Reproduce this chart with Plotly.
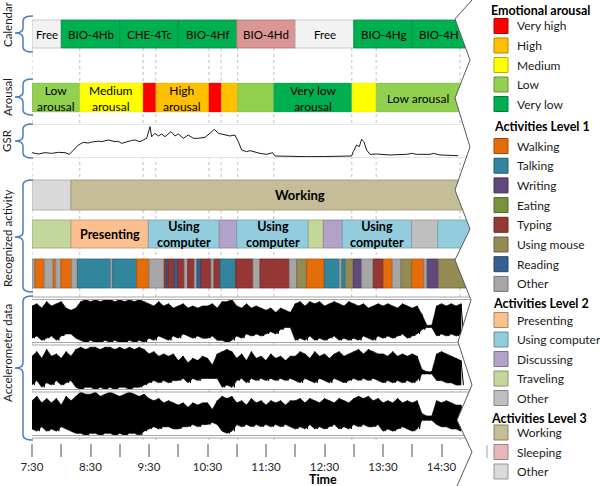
import plotly.graph_objects as go

# ======================= DATA =======================
T0 = 7.5  # 7:30 -> all times below are minutes after 7:30

# Calendar
cal_start_min = [0, 30, 90, 150, 210, 270, 330, 390]
cal_label = ["Free", "BIO-4Hb", "CHE-4Tc", "BIO-4Hf", "BIO-4Hd", "Free", "BIO-4Hg", "BIO-4H"]
cal_type = ["Free", "Lecture", "Lecture", "Lecture", "Lecture B", "Free", "Lecture", "Lecture"]

# Emotional arousal
aro_start_min = [0, 49, 114, 127, 181.5, 194, 211, 248, 328, 353]
aro_level = ["Low", "Medium", "Very high", "High", "Very high", "High", "Low", "Very low", "Medium", "Low"]
aro_text = ["Low<br>arousal", "Medium<br>arousal", "", "High<br>arousal", "", "", "",
            "Very low<br>arousal", "", "Low arousal"]
record_end_min = 439
row_end_min = 456

# GSR
gsr_min = [0, 6.5, 13.3, 20.2, 27, 33.8, 38.3, 42.4, 47.5, 52.6, 57.8, 61, 64.6, 68, 71.5, 75, 78.3,
           85.1, 88, 92, 95, 98.8, 102, 105.6, 110.8, 114.2, 117.6, 121, 122.7, 126.1, 129.6, 133,
           136.4, 142.6, 146.7, 150.1, 155.2, 160.3, 165.5, 170.6, 177.4, 182.5, 187, 191.1, 197.9,
           203, 208.1, 211.6, 215, 216.7, 220.1, 223.6, 227, 233.8, 240.7, 246.8, 249.2, 264.6,
           281.7, 300, 315.9, 327.8, 329.5, 332.9, 335.7, 338.1, 340.4, 343.2, 346.6, 353.4, 367.1,
           384.2, 389.4, 394.5, 408.2, 411.6, 418.4, 425.3, 437.2]
gsr_val = [0.72, 0.51, 0.72, 0.61, 0.77, 0.72, 0.46, 1.13, 1.90, 2.32, 2.21, 2.35, 2.42, 2.50, 2.42,
           2.55, 2.68, 2.42, 2.50, 2.16, 2.30, 2.52, 2.60, 2.68, 2.42, 2.68, 2.94, 4.74, 3.19, 3.71,
           3.30, 3.61, 3.19, 3.97, 3.30, 3.61, 2.94, 3.45, 2.94, 2.94, 3.09, 3.71, 4.33, 3.71, 3.45,
           3.30, 3.45, 2.42, 1.13, 1.03, 0.87, 1.03, 0.87, 0.61, 0.46, 0.72, 0.20, 0.10,
           0.10, 0.12, 0.10, 0.20, 0.87, 1.90, 1.65, 2.78, 2.42, 1.13, 0.46, 0.51, 0.36,
           0.46, 0.61, 0.46, 0.46, 0.61, 0.36, 0.36, 0.25]

# Activities level 3 / 2 / 1
l3_start_min = [0, 40]
l3_act = ["Other", "Working"]
l3_label = "Working"
l3_label_min = 275

l2_start_min = [0, 40, 119.3, 192.1, 210, 283.4, 298.8, 318.3, 389.4, 416.1]
l2_act = ["Traveling", "Presenting", "Using computer", "Discussing", "Using computer",
          "Traveling", "Discussing", "Using computer", "Other", "Using computer"]
l2_text = ["", "Presenting", "Using<br>computer", "", "Using<br>computer", "", "",
           "Using<br>computer", "", ""]

l1_start_min = [0, 3.1, 12.6, 21.8, 24.3, 29.7, 40.7, 46.5, 80.7, 82.8, 107.4, 120,
                135.7, 138.1, 139.8, 146, 149.4, 156.2, 159.7, 166.5, 169.2, 173.3, 183.6,
                186.7, 192.8, 208.9, 226.7, 233.9, 263.9, 271.5, 281.7, 299.8, 315.2, 317.9,
                321.3, 329.5, 338.1, 350, 360.3, 369.5, 378.5, 389.4, 402, 405.4, 416.7]
l1_act = ["Other", "Walking", "Other", "Walking", "Other", "Walking", "Other", "Talking",
          "Other", "Talking", "Walking", "Other",
          "Typing", "Reading", "Typing", "Reading", "Typing", "Other", "Typing", "Other",
          "Reading", "Typing", "Other", "Typing", "Talking", "Typing", "Other", "Typing",
          "Other", "Using mouse", "Walking", "Talking", "Other", "Talking", "Using mouse",
          "Writing", "Other", "Typing", "Walking", "Other", "Using mouse", "Walking",
          "Other", "Writing", "Using mouse"]

# Accelerometer envelopes (5-minute steps from 7:30, units: -10..10)
acc_step_min = 5
acc1_hi = [7, 8, 6, 9, 7, 8, 9, 6, 5, 6,
           9, 10, 9, 10, 9, 10, 10, 9, 10, 9, 10, 9, 10, 9,
           8, 7, 9, 7, 8, 6, 7, 8, 6, 7, 6, 7,
           7, 8, 6, 9, 9, 10,
           7, 6, 8, 6, 7, 6,
           5, 6, 4, 6, 5, 4,
           8, 9, 7, 9, 8, 9, 7, 8, 9, 8, 7, 9,
           8, 7, 8, 6, 7, 8,
           7, 8, 7, 6, 8, 7, 6, 7,
           3, -2, -2,
           7, 8, 7, 8, 7, 8]
acc1_lo = [-8, -7, -9, -8, -7, -9, -7, -6, -6, -8,
           -9, -10, -9, -10, -10, -9, -10, -9, -10, -10, -9, -10, -9, -10,
           -8, -9, -7, -8, -9, -7, -8, -6, -7, -8, -7, -8,
           -8, -7, -9, -9, -10, -9,
           -7, -8, -6, -7, -6, -7,
           -6, -5, -6, -4, -3, -3,
           -9, -8, -9, -7, -9, -8, -9, -8, -7, -9, -8, -9,
           -8, -9, -7, -8, -9, -7,
           -8, -7, -8, -7, -6, -8, -7, -6,
           -4, -3, -3,
           -7, -6, -7, -6, -7, -6]
acc2_hi = [5, 7, 4, 8, 5, 6, 4, 7, 5,
           8, 9, 8, 9, 9, 8, 9, 9, 8, 9, 8, 9, 8, 9, 8,
           6, 7, 5, 6, 5, 6,
           3, 5, 2, 4, 3, 5,
           4, 1, 6,
           7, 8, 7,
           4, 6, 3, 7, 4, 5, 3, 6, 4, 5, 3, 5,
           5, 7, 6, 4, 7, 5, 6, 4, 6, 7, 5, 6,
           7, 8, 6, 8, 7, 6,
           6, 5, 7, 5, 6, 5, 6, 5,
           -1, -2, -2,
           6, 7, 6, 5, 4, 3]
acc2_lo = [-8, -6, -9, -7, -8, -6, -8, -7, -6,
           -9, -10, -9, -9, -10, -9, -10, -9, -10, -9, -9, -10, -9, -9, -8,
           -7, -6, -7, -6, -7, -6,
           -6, -5, -7, -5, -6, -5,
           -5, -5, -5,
           -9, -8, -9,
           -6, -5, -7, -5, -6, -5, -6, -5, -6, -5, -6, -5,
           -6, -7, -5, -6, -7, -5, -6, -7, -5, -6, -7, -6,
           -5, -6, -5, -6, -5, -6,
           -7, -6, -7, -6, -7, -6, -7, -6,
           -3, -3, -3,
           -6, -6, -7, -7, -8, -8]
acc3_hi = [6, 8, 5, 7, 5, 7, 4, 8, 6,
           8, 10, 9, 9, 10, 8, 9, 10, 9, 8, 9, 10, 9, 8, 9,
           7, 6, 7, 5, 6, 5,
           4, 5, 3, 5, 4, 5,
           5, 2, 6,
           8, 7, 8,
           5, 6, 4, 7, 5, 6, 4, 6, 5, 6, 4, 6,
           6, 7, 5, 7, 6, 5, 7, 6, 5, 7, 6, 5,
           7, 8, 7, 8, 6, 7,
           5, 6, 5, 7, 5, 6, 5, 6,
           0, -1, -1,
           6, 5, 6, 5, 4, 4]
acc3_lo = [-7, -8, -6, -8, -7, -8, -6, -7, -8,
           -9, -9, -10, -9, -9, -10, -9, -9, -10, -9, -10, -9, -9, -10, -8,
           -7, -6, -7, -6, -6, -7,
           -7, -6, -6, -5, -6, -5,
           -5, -4, -5,
           -8, -9, -8,
           -5, -6, -5, -6, -5, -6, -5, -6, -5, -6, -5, -6,
           -7, -6, -7, -5, -7, -6, -7, -6, -5, -7, -6, -7,
           -5, -6, -5, -6, -6, -5,
           -8, -7, -8, -7, -6, -7, -8, -7,
           -3, -3, -3,
           -5, -6, -6, -7, -7, -8]

# Time axis ticks
tick_min = [0, 30, 60, 90, 120, 150, 180, 210, 240, 270, 300, 330, 360, 390, 420]
tick_text = ["7:30", "", "8:30", "", "9:30", "", "10:30", "", "11:30", "", "12:30", "",
             "13:30", "", "14:30"]

# Legend content
leg_arousal = ["Very high", "High", "Medium", "Low", "Very low"]
leg_l1 = ["Walking", "Talking", "Writing", "Eating", "Typing", "Using mouse", "Reading", "Other"]
leg_l2 = ["Presenting", "Using computer", "Discussing", "Traveling", "Other"]
leg_l3 = ["Working", "Sleeping", "Other"]

# ======================= STYLE =======================
cal_colors = {"Free": "#f2f2f2", "Lecture": "#00b050", "Lecture B": "#d99694"}
aro_colors = {"Very high": "#ff0000", "High": "#ffc000", "Medium": "#ffff00",
              "Low": "#92d050", "Very low": "#00b050"}
l1_colors = {"Walking": "#e46c0a", "Talking": "#31859c", "Writing": "#604a7b",
             "Eating": "#77933c", "Typing": "#953735", "Using mouse": "#948a54",
             "Reading": "#376092", "Other": "#a6a6a6"}
l2_colors = {"Presenting": "#fac090", "Using computer": "#93cddd", "Discussing": "#b3a2c7",
             "Traveling": "#c3d69b", "Other": "#bfbfbf"}
l3_colors = {"Working": "#c4bd97", "Sleeping": "#e6b9b8", "Other": "#d9d9d9"}

W, H = 600, 486
PX_PER_H = 58.5
X0_PX, X1_PX = 32, 472
FONT = "Lato"


def hrs(m):
    return T0 + m / 60.0


def pxx(x):
    return x / W


def pxy(y):
    return 1 - y / H


def darken(c, f=0.78):
    c = c.lstrip("#")
    r, g, b = int(c[0:2], 16), int(c[2:4], 16), int(c[4:6], 16)
    return "#%02x%02x%02x" % (int(r * f), int(g * f), int(b * f))


fig = go.Figure()


def add_row(starts, cats, cmap, yc, h, end, lw=0.8):
    ends = list(starts[1:]) + [end]
    cols = [cmap[c] for c in cats]
    fig.add_trace(go.Bar(
        orientation="h", y=[yc] * len(starts), base=[hrs(s) for s in starts],
        x=[(e - s) / 60.0 for s, e in zip(starts, ends)], width=h,
        marker=dict(color=cols, line=dict(color=[darken(c) for c in cols], width=lw)),
        xaxis="x", yaxis="y", hoverinfo="skip", showlegend=False))


# row geometry (pixels)
ROW_CAL = (34, 28)
ROW_ARO = (97.5, 29)
ROW_L3 = (195, 30)
ROW_L2 = (234, 28)
ROW_L1 = (273.5, 29)

add_row(cal_start_min, cal_type, cal_colors, *ROW_CAL, row_end_min)
add_row(aro_start_min, aro_level, aro_colors, *ROW_ARO, row_end_min, lw=0.3)
add_row(l3_start_min, l3_act, l3_colors, *ROW_L3, row_end_min)
add_row(l2_start_min, l2_act, l2_colors, *ROW_L2, row_end_min)
add_row(l1_start_min, l1_act, l1_colors, *ROW_L1, row_end_min)

# GSR
fig.add_trace(go.Scatter(x=[hrs(m) for m in gsr_min], y=gsr_val, mode="lines",
                         line=dict(color="#1a1a1a", width=1), xaxis="x", yaxis="y2",
                         hoverinfo="skip", showlegend=False))

# Accelerometer: dense signal drawn as the band between the read envelopes,
# plus the oscillation between them
for hi, lo, ax in [(acc1_hi, acc1_lo, "y3"), (acc2_hi, acc2_lo, "y4"), (acc3_hi, acc3_lo, "y5")]:
    ts = [hrs(i * acc_step_min) for i in range(len(hi))]
    fig.add_trace(go.Scatter(x=ts + ts[::-1], y=list(hi) + list(lo)[::-1], mode="lines",
                             fill="toself", fillcolor="#000000",
                             line=dict(color="#000000", width=0.6),
                             xaxis="x", yaxis=ax, hoverinfo="skip", showlegend=False))
    xs, ys = [], []
    for i in range(len(hi)):
        xs += [hrs(i * acc_step_min), hrs(i * acc_step_min + acc_step_min / 2.0)]
        ys += [hi[i], lo[i]]
    fig.add_trace(go.Scatter(x=xs, y=ys, mode="lines",
                             line=dict(color="#000000", width=1),
                             xaxis="x", yaxis=ax, hoverinfo="skip", showlegend=False))

shapes = []
annotations = []

# vertical dotted gridlines at arousal boundaries
for m in aro_start_min + [record_end_min]:
    shapes.append(dict(type="line", xref="x", yref="paper", x0=hrs(m), x1=hrs(m),
                       y0=pxy(48), y1=pxy(440), layer="below",
                       line=dict(color="#bfbfbf", width=1, dash="dot")))

# GSR gridlines
for yy in [125, 157.3]:
    shapes.append(dict(type="line", xref="paper", yref="paper", x0=pxx(X0_PX), x1=pxx(X1_PX),
                       y0=pxy(yy), y1=pxy(yy), layer="below",
                       line=dict(color="#d0d0d0", width=1)))
# accelerometer panel borders (double lines)
for yy in [297, 299.5, 342.5, 345, 389.5, 392, 435.5, 438]:
    shapes.append(dict(type="line", xref="paper", yref="paper", x0=pxx(X0_PX), x1=pxx(X1_PX),
                       y0=pxy(yy), y1=pxy(yy), layer="above",
                       line=dict(color="#a6a6a6", width=1)))

# right zig-zag outline + white clip
zig = [(472, 0), (455, 19), (470, 60), (455, 98), (470, 147), (455, 190), (470, 229),
       (455, 260), (471, 300), (458, 342), (472, 385), (457, 420), (472, 452), (457, 486)]
clip = "M " + " L ".join("%.5f,%.5f" % (pxx(x), pxy(y)) for x, y in zig)
clip += " L %.5f,%.5f L %.5f,%.5f Z" % (pxx(486), pxy(486), pxx(486), pxy(0))
shapes.append(dict(type="path", xref="paper", yref="paper", path=clip, fillcolor="white",
                   line=dict(width=0), layer="above"))
zpath = "M " + " L ".join("%.5f,%.5f" % (pxx(x), pxy(y)) for x, y in zig)
shapes.append(dict(type="path", xref="paper", yref="paper", path=zpath,
                   line=dict(color="#595959", width=1), layer="above"))
shapes.append(dict(type="line", xref="paper", yref="paper", x0=pxx(487), x1=pxx(487),
                   y0=pxy(445), y1=pxy(458), line=dict(color="#a6a6a6", width=1)))


# braces
def brace(y0, y1, ym, xe=33, xm=23, xt=15, r=5):
    pts = [("M", [(xe, y0)]), ("Q", [(xm, y0), (xm, y0 + r)]), ("L", [(xm, ym - r)]),
           ("Q", [(xm, ym), (xt, ym)]), ("Q", [(xm, ym), (xm, ym + r)]), ("L", [(xm, y1 - r)]),
           ("Q", [(xm, y1), (xe, y1)])]
    s = ""
    for cmd, ps in pts:
        s += cmd + " " + " ".join("%.5f,%.5f" % (pxx(a), pxy(b)) for a, b in ps) + " "
    return s


for y0, y1, ym in [(16, 52, 33), (79, 115, 97), (124, 158, 141), (180, 292, 237), (296, 440, 368)]:
    shapes.append(dict(type="path", xref="paper", yref="paper", path=brace(y0, y1, ym),
                       line=dict(color="#4a7ebb", width=1.5)))

# side labels
for txt, yc in [("Calendar", 24), ("Arousal", 97), ("GSR", 141),
                ("Recognized activity", 238), ("Accelerometer data", 353)]:
    annotations.append(dict(text=txt, xref="paper", yref="paper", x=pxx(7), y=pxy(yc),
                            textangle=-90, showarrow=False, xanchor="center", yanchor="middle",
                            font=dict(family=FONT, size=11.5, color="#1a1a1a")))


def seg_mid(starts, end, i):
    ends = list(starts[1:]) + [end]
    return hrs((starts[i] + ends[i]) / 2.0)


# calendar labels
for i, lab in enumerate(cal_label):
    if i == len(cal_label) - 1:
        xm = hrs(cal_start_min[i] + 27)
    else:
        xm = seg_mid(cal_start_min, row_end_min, i)
    annotations.append(dict(text=lab, x=xm, y=ROW_CAL[0], xref="x", yref="y", showarrow=False,
                            xanchor="center", yanchor="middle",
                            font=dict(family=FONT, size=11.5, color="#000")))
# arousal labels
for i, lab in enumerate(aro_text):
    if lab:
        annotations.append(dict(text=lab, x=seg_mid(aro_start_min, record_end_min, i),
                                y=ROW_ARO[0] + 0.5, xref="x", yref="y", showarrow=False,
                                xanchor="center", yanchor="middle",
                                font=dict(family=FONT, size=12, color="#000")))
# level labels
annotations.append(dict(text="<b>%s</b>" % l3_label, x=hrs(l3_label_min), y=ROW_L3[0],
                        xref="x", yref="y", showarrow=False, xanchor="center", yanchor="middle",
                        font=dict(family=FONT, size=13, color="#000")))
for i, lab in enumerate(l2_text):
    if lab:
        annotations.append(dict(text="<b>%s</b>" % lab, x=seg_mid(l2_start_min, row_end_min, i),
                                y=ROW_L2[0] + 0.5, xref="x", yref="y", showarrow=False,
                                xanchor="center", yanchor="middle",
                                font=dict(family=FONT, size=12.5, color="#000")))

# axis title
annotations.append(dict(text="<b>Time</b>", xref="paper", yref="paper", x=pxx(323), y=pxy(479),
                        xanchor="center", yanchor="middle",
                        showarrow=False, font=dict(family=FONT, size=12.5, color="#000")))

# legend
groups = [("Emotional arousal", leg_arousal, aro_colors, 489, 10, 26, 19.5),
          ("Activities Level 1", leg_l1, l1_colors, 492, 127, 146, 19.7),
          ("Activities Level 2", leg_l2, l2_colors, 491, 303, 320, 19.5),
          ("Activities Level 3", leg_l3, l3_colors, 489, 418, 432.5, 19.5)]
for title, items, cmap, tx, ty, y0, dy in groups:
    annotations.append(dict(text="<b>%s</b>" % title, xref="paper", yref="paper", x=pxx(tx),
                            y=pxy(ty), xanchor="left", yanchor="middle", showarrow=False,
                            font=dict(family=FONT, size=12.5, color="#000")))
    for k, name in enumerate(items):
        yc = y0 + k * dy
        col = cmap[name]
        shapes.append(dict(type="rect", xref="paper", yref="paper", x0=pxx(494), x1=pxx(508),
                           y0=pxy(yc - 7.5), y1=pxy(yc + 7.5), fillcolor=col,
                           line=dict(color=darken(col, 0.7), width=1)))
        annotations.append(dict(text=name, xref="paper", yref="paper", x=pxx(515), y=pxy(yc),
                                xanchor="left", yanchor="middle", showarrow=False,
                                font=dict(family=FONT, size=12, color="#1a1a1a")))

xr = [T0, T0 + (X1_PX - X0_PX) / PX_PER_H]
fig.update_layout(
    template="none",
    width=W, height=H, autosize=False, margin=dict(l=0, r=0, t=0, b=0, pad=0),
    paper_bgcolor="white", plot_bgcolor="white", barmode="overlay", showlegend=False,
    shapes=shapes, annotations=annotations,
    xaxis=dict(domain=[pxx(X0_PX), pxx(X1_PX)], range=xr, anchor="free", position=pxy(443),
               side="bottom", tickvals=[hrs(m) for m in tick_min], ticktext=tick_text,
               ticks="outside", ticklen=13, tickwidth=1.5, tickcolor="#a6a6a6",
               showline=False, showgrid=False, zeroline=False, automargin=False,
               tickfont=dict(family=FONT, size=11.5, color="#262626")),
    yaxis=dict(domain=[0, 1], range=[H, 0], visible=False, fixedrange=True, automargin=False),
    yaxis2=dict(domain=[pxy(157.3), pxy(125)], range=[0, 5], visible=False, anchor="x"),
    yaxis3=dict(domain=[pxy(342.5), pxy(299.5)], range=[-10, 10], visible=False, anchor="x"),
    yaxis4=dict(domain=[pxy(389.5), pxy(345)], range=[-10, 10], visible=False, anchor="x"),
    yaxis5=dict(domain=[pxy(435.5), pxy(392)], range=[-10, 10], visible=False, anchor="x"),
)

fig.write_html("out.html", config={"displayModeBar": False},
               post_script="document.body.style.margin='0';document.body.style.overflow='hidden';")
